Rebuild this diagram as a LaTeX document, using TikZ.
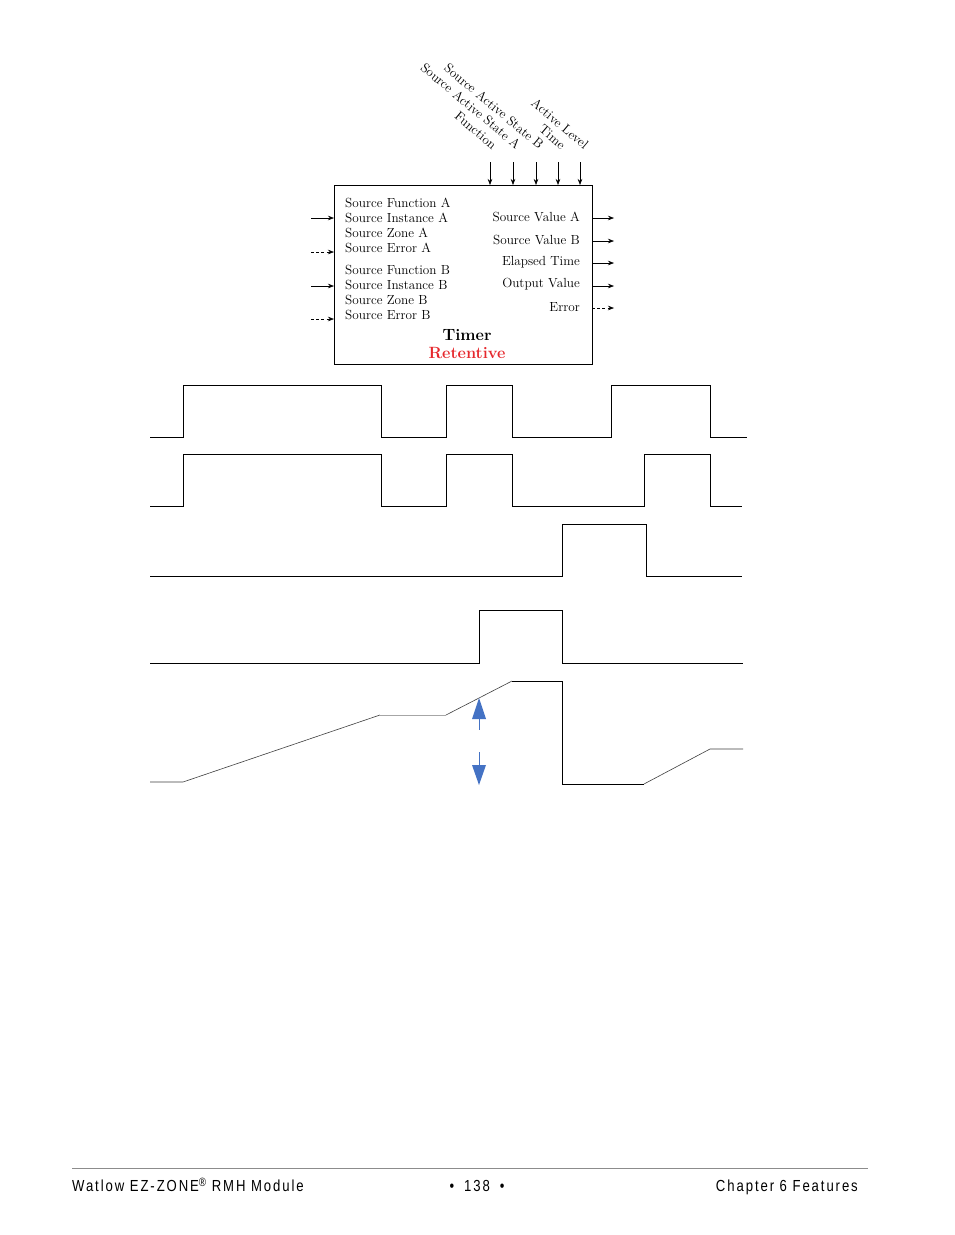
\documentclass[tikz,border=0pt]{standalone}
\usepackage{fontspec}
\usetikzlibrary{arrows.meta}
\newfontfamily\footfont[FakeStretch=0.82,LetterSpace=12]{Liberation Sans}
\definecolor{retred}{RGB}{230,40,45}
\definecolor{arrblue}{RGB}{68,114,196}
\begin{document}
\begin{tikzpicture}[x=1pt,y=-1pt,
  lbl/.style={font=\fontsize{13.2}{15}\selectfont, inner sep=0pt},
  rlbl/.style={lbl, rotate=-40, anchor=base east},
  sig/.style={draw=black, line width=0.9pt},
  ramp/.style={draw=black!75, line width=0.6pt},
  pin/.style={-{Stealth[length=6pt,width=4.5pt]}, line width=0.6pt},
  dpin/.style={pin, dash pattern=on 3pt off 2.2pt},
  blu/.style={fill=arrblue, draw=none},
  foot/.style={font=\footfont\fontsize{16}{19}\selectfont, inner sep=0pt}]
\useasboundingbox (0,0) rectangle (954,1235);
\fill[white] (0,0) rectangle (954,1235);

% block
\node[draw, line width=0.7pt, minimum width=258pt, minimum height=179pt, anchor=north west, inner sep=0pt] (box) at (334,185) {};

% rotated top labels
\node[rlbl] (lf) at (492,150) {Function};
\node[rlbl] (lsa) at (516,150) {Source Active State A};
\node[rlbl] (lsb) at (539,150) {Source Active State B};
\node[rlbl] (lt) at (561,150) {Time};
\node[rlbl] (lal) at (584,150) {Active Level};
\foreach \x/\n in {490/a,513/b,536/c,558/d,580/e}{
  \coordinate (t\n) at (\x,162);
  \coordinate (tb\n) at (\x,185);
  \draw[pin] (t\n) -- (tb\n);
}

% left texts
\foreach \t [count=\i] in {Source Function A,Source Instance A,Source Zone A,Source Error A}{
  \node[lbl, anchor=west] (la\i) at (345,{203+15*(\i-1)}) {\t};
}
\foreach \t [count=\i] in {Source Function B,Source Instance B,Source Zone B,Source Error B}{
  \node[lbl, anchor=west] (lb\i) at (345,{270+15*(\i-1)}) {\t};
}
% right texts
\node[lbl, anchor=east] (r1) at (580,217) {Source Value A};
\node[lbl, anchor=east] (r2) at (580,240) {Source Value B};
\node[lbl, anchor=east] (r3) at (580,262) {Elapsed Time};
\node[lbl, anchor=east] (r4) at (580,284) {Output Value};
\node[lbl, anchor=east] (r5) at (580,307) {Error};
\node[font=\fontsize{16.3}{19}\selectfont\bfseries, inner sep=0pt] (timer) at (467,335) {Timer};
\node[font=\fontsize{16.3}{19}\selectfont\bfseries, text=retred, inner sep=0pt] (ret) at (467,353) {Retentive};

% input pins
\coordinate (i1) at (311,218); \coordinate (i1b) at (334,218);
\coordinate (i2) at (311,252); \coordinate (i2b) at (334,252);
\coordinate (i3) at (311,286); \coordinate (i3b) at (334,286);
\coordinate (i4) at (311,319); \coordinate (i4b) at (334,319);
\draw[pin] (i1) -- (i1b);
\draw[dpin] (i2) -- (i2b);
\draw[pin] (i3) -- (i3b);
\draw[dpin] (i4) -- (i4b);
% output pins
\foreach \y/\n in {218/1,241/2,263/3,286/4}{
  \coordinate (o\n) at (592,\y); \coordinate (oe\n) at (614,\y);
  \draw[pin] (o\n) -- (oe\n);
}
\coordinate (o5) at (592,308); \coordinate (oe5) at (614,308);
\draw[dpin] (o5) -- (oe5);

% waveforms
\draw[sig] (150,437) -- (183,437) -- (183,385) -- (381,385) -- (381,437) -- (446,437) -- (446,385) -- (512,385) -- (512,437) -- (611,437) -- (611,385) -- (710,385) -- (710,437) -- (747,437);
\draw[sig] (150,506) -- (183,506) -- (183,454) -- (381,454) -- (381,506) -- (446,506) -- (446,454) -- (512,454) -- (512,506) -- (644,506) -- (644,454) -- (710,454) -- (710,506) -- (742,506);
\draw[sig] (150,576) -- (562,576) -- (562,524) -- (646,524) -- (646,576) -- (742,576);
\draw[sig] (150,663) -- (479,663) -- (479,610) -- (562,610) -- (562,663) -- (743,663);

% analog trace
\draw[ramp] (150,782) -- (183,782) -- (380,715);
\draw[draw=black!35, line width=0.9pt] (380,715) -- (446,715);
\draw[ramp] (446,715) -- (512,681);
\draw[sig] (512,681) -- (562,681) -- (562,784) -- (644,784);
\draw[ramp] (644,784) -- (710,749) -- (743,749);

% blue arrows
\fill[blu] (479,698) -- (486,719) -- (472,719) -- cycle;
\draw[arrblue, line width=0.9pt] (479,719) -- (479,730);
\draw[arrblue, line width=0.9pt] (479,752) -- (479,766);
\fill[blu] (472,765) -- (486,765) -- (479,785) -- cycle;

% footer
\draw[black!45, line width=0.8pt] (72,1168) -- (868,1168);
\node[foot, anchor=base west] (f1) at (72,1191) {Watlow EZ-ZONE\raisebox{5pt}{\fontsize{12}{12}\selectfont ®} RMH Module};
\node[foot, anchor=base] (f2) at (477,1191) {•\hspace{10pt}138\hspace{10pt}•};
\node[foot, anchor=base east] (f3) at (858,1191) {Chapter 6 Features};
\end{tikzpicture}
\end{document}
